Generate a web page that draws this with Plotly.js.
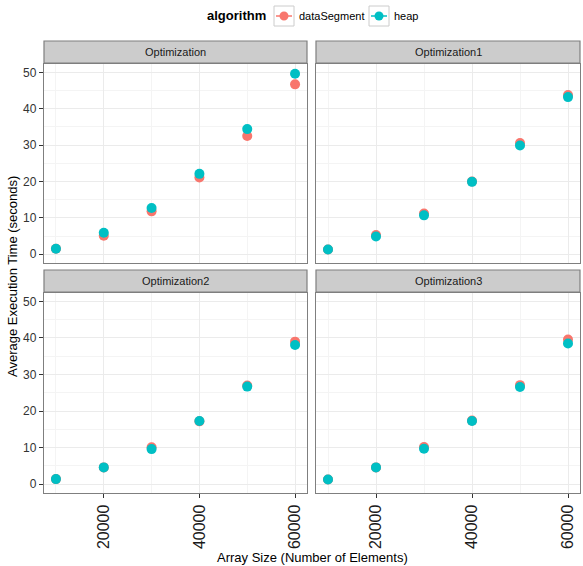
<!DOCTYPE html>
<html>
<head>
<meta charset="utf-8">
<script src="https://cdn.plot.ly/plotly-3.0.1.min.js"></script>
<style>html,body{margin:0;padding:0;background:#fff;}#chart{width:583px;height:566px;}</style>
</head>
<body>
<div id="chart"></div>
<script>
// ---- data ----
const arraySizes = [10000, 20000, 30000, 40000, 50000, 60000];
const panels = ["Optimization", "Optimization1", "Optimization2", "Optimization3"];
const algorithms = ["dataSegment", "heap"];
const opt0_dataSegment = [1.5, 5.1, 11.8, 21.1, 32.5, 46.7];
const opt0_heap        = [1.5, 5.9, 12.7, 22.1, 34.4, 49.6];
const opt1_dataSegment = [1.3, 5.3, 11.2, 20.0, 30.6, 43.8];
const opt1_heap        = [1.3, 4.9, 10.7, 19.9, 29.9, 43.2];
const opt2_dataSegment = [1.4, 4.6, 10.1, 17.2, 27.0, 39.0];
const opt2_heap        = [1.4, 4.6, 9.6, 17.3, 26.7, 38.1];
const opt3_dataSegment = [1.3, 4.6, 10.2, 17.4, 27.1, 39.6];
const opt3_heap        = [1.3, 4.6, 9.7, 17.3, 26.6, 38.5];
const xTickVals = [20000, 40000, 60000];
const yTickVals = [0, 10, 20, 30, 40, 50];

// ---- styling / layout ----
const W = 583, H = 566;
const colors = {dataSegment: "#F8766D", heap: "#00BFC4"};
const px = v => v / W;
const py = v => 1 - v / H;
const colsPx = [[44, 307], [316, 580]];
const rowsPx = [[64, 263], [293, 493]];
const stripsPx = [[41, 63], [270, 292]];
const seriesByPanel = [
  [opt0_dataSegment, opt0_heap],
  [opt1_dataSegment, opt1_heap],
  [opt2_dataSegment, opt2_heap],
  [opt3_dataSegment, opt3_heap]
];

const traces = [];
const layout = {
  width: W, height: H,
  margin: {l: 0, r: 0, t: 0, b: 0},
  paper_bgcolor: "#fff", plot_bgcolor: "#fff",
  showlegend: false,
  font: {family: "Liberation Sans, Arial, sans-serif", color: "#000"},
  shapes: [], annotations: []
};

panels.forEach((name, i) => {
  const r = Math.floor(i / 2), c = i % 2;
  const sfx = i === 0 ? "" : String(i + 1);
  const xa = "x" + sfx, ya = "y" + sfx;
  algorithms.forEach((alg, k) => {
    traces.push({
      type: "scatter", mode: "markers",
      x: arraySizes, y: seriesByPanel[i][k],
      xaxis: xa, yaxis: ya, name: alg,
      marker: {color: colors[alg], size: 10, line: {width: 0}},
      hoverinfo: "x+y+name"
    });
  });
  const common = {
    showline: true, mirror: true, linecolor: "#7F7F7F", linewidth: 1.2,
    showgrid: true, gridcolor: "#EBEBEB", gridwidth: 1, zeroline: false,
    ticks: "outside", ticklen: 4, tickcolor: "#333", tickwidth: 1
  };
  layout["xaxis" + sfx] = Object.assign({}, common, {
    domain: [px(colsPx[c][0]), px(colsPx[c][1])],
    anchor: ya, range: [7500, 62500],
    tickmode: "array", tickvals: xTickVals, ticktext: xTickVals.map(String),
    tickangle: -90,
    showticklabels: r === 1, ticks: r === 1 ? "outside" : "",
    tickfont: {size: 16, color: "#1A1A1A"},
    minor: {tickmode: "array", tickvals: [10000, 30000, 50000], showgrid: true, gridcolor: "#F4F4F4", gridwidth: 1, ticks: ""}
  });
  layout["yaxis" + sfx] = Object.assign({}, common, {
    domain: [py(rowsPx[r][1]), py(rowsPx[r][0])],
    anchor: xa, range: [-2.4, 52.3],
    tickmode: "array", tickvals: yTickVals, ticktext: yTickVals.map(String),
    showticklabels: c === 0, ticks: c === 0 ? "outside" : "",
    tickfont: {size: 12, color: "#333"},
    minor: {tickmode: "array", tickvals: [5, 15, 25, 35, 45], showgrid: true, gridcolor: "#F4F4F4", gridwidth: 1, ticks: ""}
  });
  // strip
  layout.shapes.push({
    type: "rect", xref: "paper", yref: "paper",
    x0: px(colsPx[c][0]), x1: px(colsPx[c][1]),
    y0: py(stripsPx[r][1]), y1: py(stripsPx[r][0]),
    fillcolor: "#CCCCCC", line: {color: "#7F7F7F", width: 1.2}
  });
  layout.annotations.push({
    xref: "paper", yref: "paper",
    x: px((colsPx[c][0] + colsPx[c][1]) / 2), y: py((stripsPx[r][0] + stripsPx[r][1]) / 2),
    text: name, showarrow: false, xanchor: "center", yanchor: "middle",
    font: {size: 11, color: "#1A1A1A"}
  });
});

// axis titles
layout.annotations.push({
  xref: "paper", yref: "paper", x: px(312), y: py(557),
  text: "Array Size (Number of Elements)", showarrow: false,
  xanchor: "center", yanchor: "middle", font: {size: 13, color: "#000"}
});
layout.annotations.push({
  xref: "paper", yref: "paper", x: px(13), y: py(277),
  text: "Average Execution Time (seconds)", showarrow: false, textangle: -90,
  xanchor: "center", yanchor: "middle", font: {size: 13, color: "#000"}
});

// legend (manual, ggplot style)
const legY = 16;
layout.annotations.push({
  xref: "paper", yref: "paper", x: px(205), y: py(legY),
  text: "<b>algorithm</b>", showarrow: false, xanchor: "left", yanchor: "middle",
  font: {size: 13, color: "#000"}
});
const keyBoxes = [[274, 294, 297], [369, 389, 392]];
algorithms.forEach((alg, k) => {
  const [x0, x1, tx] = keyBoxes[k];
  layout.shapes.push({
    type: "rect", xref: "paper", yref: "paper",
    x0: px(x0), x1: px(x1), y0: py(legY + 10), y1: py(legY - 10),
    fillcolor: "#fff", line: {color: "#CCCCCC", width: 1}
  });
  layout.shapes.push({
    type: "line", xref: "paper", yref: "paper",
    x0: px(x0 + 2), x1: px(x1 - 2), y0: py(legY), y1: py(legY),
    line: {color: colors[alg], width: 1.5}
  });
  const cx = (x0 + x1) / 2;
  layout.shapes.push({
    type: "circle", xref: "paper", yref: "paper",
    x0: px(cx - 4.5), x1: px(cx + 4.5), y0: py(legY + 4.5), y1: py(legY - 4.5),
    fillcolor: colors[alg], line: {width: 0}
  });
  layout.annotations.push({
    xref: "paper", yref: "paper", x: px(tx), y: py(legY),
    text: alg, showarrow: false, xanchor: "left", yanchor: "middle",
    font: {size: 11, color: "#000"}
  });
});

Plotly.newPlot("chart", traces, layout, {displayModeBar: false, staticPlot: true});
</script>
</body>
</html>
